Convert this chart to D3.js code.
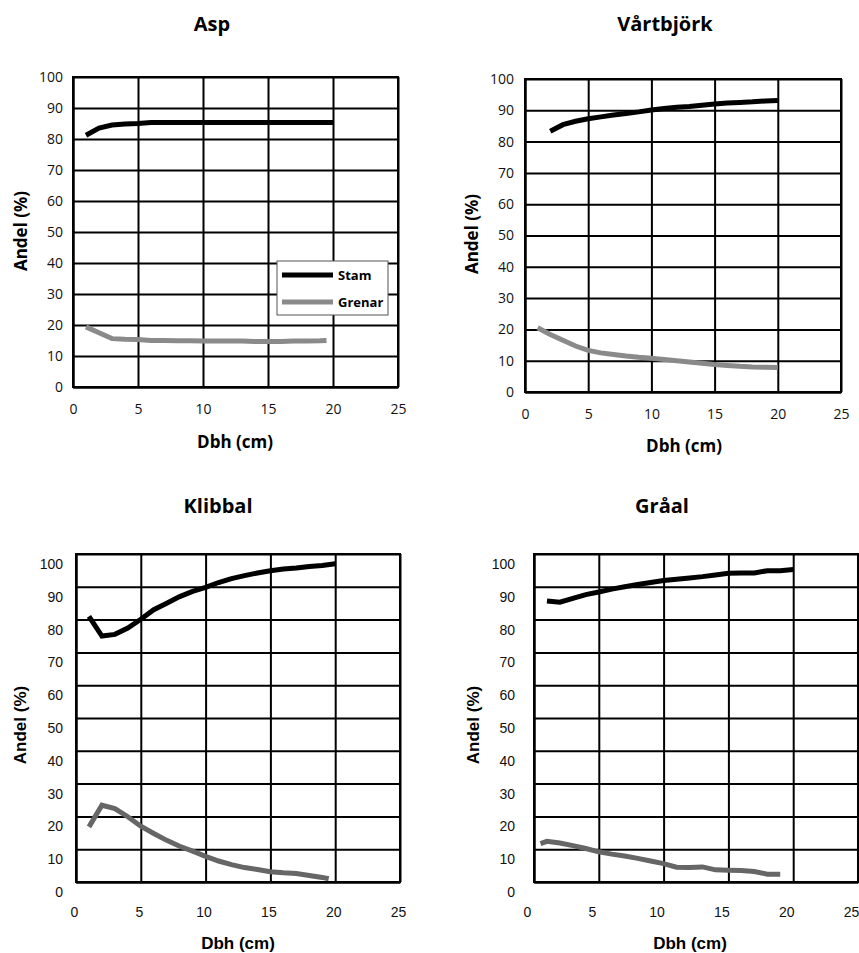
<!DOCTYPE html>
<meta charset="utf-8">
<style>
body { margin: 0; background: #fff; }
.grid line, .grid path { stroke: #000; stroke-width: 2px; }
.title { font-family: "Open Sans"; font-weight: bold; font-size: 20px; }
</style>
<svg width="859" height="953"></svg>
<script src="https://d3js.org/d3.v7.min.js"></script>
<script>

// ticks
var xTicks = [0, 5, 10, 15, 20, 25];
var yTicks = [0, 10, 20, 30, 40, 50, 60, 70, 80, 90, 100];
var seriesNames = ["Stam", "Grenar"];

// Asp
var aspStamDbh = [1, 2, 3, 4, 5, 6, 7, 8, 9, 10, 11, 12, 13, 14, 15, 16, 17, 18, 19, 20];
var aspStam = [81.2, 83.5, 84.5, 84.8, 85, 85.3, 85.3, 85.3, 85.3, 85.3, 85.3, 85.3, 85.3, 85.3, 85.3, 85.3, 85.3, 85.3, 85.3, 85.3];
var aspGrenDbh = [1, 2, 3, 4, 5, 6, 7, 8, 9, 10, 11, 12, 13, 14, 15, 16, 17, 18, 19, 19.5];
var aspGren = [19.4, 17.5, 15.6, 15.4, 15.3, 15.0, 15.0, 14.9, 14.9, 14.8, 14.8, 14.8, 14.8, 14.7, 14.7, 14.7, 14.8, 14.8, 14.9, 15.0];

// Vårtbjörk
var vbStamDbh = [2, 3, 4, 5, 6, 7, 8, 9, 10, 11, 12, 13, 14, 15, 16, 17, 18, 19, 20];
var vbStam = [83.3, 85.4, 86.5, 87.3, 87.9, 88.5, 89, 89.5, 90.1, 90.6, 91, 91.2, 91.6, 92, 92.3, 92.5, 92.7, 93, 93.1];
var vbGrenDbh = [1, 2, 3, 4, 5, 6, 7, 8, 9, 10, 11, 12, 13, 14, 15, 16, 17, 18, 19, 20];
var vbGren = [20.5, 18.4, 16.5, 14.7, 13.3, 12.5, 12, 11.5, 11.1, 10.8, 10.4, 10, 9.6, 9.2, 8.8, 8.5, 8.2, 8.0, 7.9, 7.8];

// Klibbal
var kbStamDbh = [1, 2, 3, 4, 5, 6, 7, 8, 9, 10, 11, 12, 13, 14, 15, 16, 17, 18, 19, 20];
var kbStam = [81, 75, 75.5, 77.4, 80.1, 83, 85, 87, 88.6, 89.8, 91.3, 92.5, 93.4, 94.2, 94.9, 95.4, 95.7, 96.2, 96.5, 97];
var kbGrenDbh = [1, 2, 3, 4, 5, 6, 7, 8, 9, 10, 11, 12, 13, 14, 15, 16, 17, 18, 19, 19.5];
var kbGren = [16.8, 23.4, 22.4, 19.9, 17, 14.8, 12.7, 10.9, 9.4, 7.8, 6.4, 5.3, 4.4, 3.8, 3.1, 2.8, 2.6, 2.0, 1.4, 1.0];

// Gråal
var gaStamDbh = [1, 2, 3, 4, 5, 6, 7, 8, 9, 10, 11, 12, 13, 14, 15, 16, 17, 18, 19, 20];
var gaStam = [85.7, 85.3, 86.5, 87.6, 88.4, 89.3, 90, 90.7, 91.3, 91.9, 92.3, 92.7, 93.1, 93.6, 94.1, 94.2, 94.2, 94.9, 94.9, 95.3];
var gaGrenDbh = [0.5, 1, 2, 3, 4, 5, 6, 7, 8, 9, 10, 11, 12, 13, 14, 15, 16, 17, 18, 19];
var gaGren = [11.7, 12.4, 11.9, 11.1, 10.2, 9.2, 8.5, 7.9, 7.2, 6.4, 5.6, 4.5, 4.4, 4.6, 3.7, 3.6, 3.5, 3.2, 2.4, 2.4];

var svg = d3.select("svg");

var panels = [
  { title: "Asp", stam: [aspStamDbh, aspStam], gren: [aspGrenDbh, aspGren], legend: true,
    left: 73, top: 77, w: 325, h: 310, font: "Open Sans", grey: "#8a8a8a",
    titleX: 212, titleY: 31, ylabX: 21, ylabY: 231, xlabX: 235, xlabY: 448,
    xPad: 17, yPad: 10, tdx: 0, tdy: 0 },
  { title: "Vårtbjörk", stam: [vbStamDbh, vbStam], gren: [vbGrenDbh, vbGren],
    left: 525, top: 79, w: 316, h: 313, font: "Open Sans", grey: "#8a8a8a",
    titleX: 665, titleY: 31, ylabX: 472, ylabY: 234, xlabX: 684, xlabY: 452,
    xPad: 17, yPad: 11, tdx: 0, tdy: 0 },
  { title: "Klibbal", stam: [kbStamDbh, kbStam], gren: [kbGrenDbh, kbGren],
    left: 76, top: 554, w: 324, h: 328, font: "Liberation Sans", grey: "#666",
    titleX: 218, titleY: 513, ylabX: 20, ylabY: 725, xlabX: 238, xlabY: 949,
    xPad: 25, yPad: 13, tdx: -2, tdy: 10 },
  { title: "Gråal", stam: [gaStamDbh, gaStam], gren: [gaGrenDbh, gaGren],
    left: 534, top: 554, w: 324, h: 328, font: "Liberation Sans", grey: "#666",
    titleX: 662, titleY: 513, ylabX: 473, ylabY: 725, xlabX: 690, xlabY: 949,
    xPad: 25, yPad: 19, tdx: -7, tdy: 10 }
];

panels.forEach(function(p) {
  var x = d3.scaleLinear().domain([0, 25]).range([0, p.w]);
  var y = d3.scaleLinear().domain([0, 100]).range([p.h, 0]);

  svg.append("text").attr("class", "title")
    .attr("x", p.titleX).attr("y", p.titleY)
    .attr("text-anchor", "middle").text(p.title);

  var g = svg.append("g").attr("transform", "translate(" + p.left + "," + p.top + ")");

  var xAxis = g.append("g").attr("class", "grid")
      .attr("transform", "translate(0," + p.h + ")")
      .call(d3.axisBottom(x).tickValues(xTicks).tickSize(-p.h).tickPadding(p.xPad).tickSizeOuter(0));
  var yAxis = g.append("g").attr("class", "grid")
      .call(d3.axisLeft(y).tickValues(yTicks).tickSize(-p.w).tickPadding(p.yPad).tickSizeOuter(0));

  [xAxis, yAxis].forEach(function(a) {
    a.selectAll("text")
      .attr("font-family", p.font).attr("font-size", 14).attr("fill", "#111");
  });
  xAxis.selectAll("text").attr("transform", "translate(" + p.tdx + ",0)");
  yAxis.selectAll("text").attr("transform", "translate(0," + p.tdy + ")");

  g.append("rect").attr("width", p.w).attr("height", p.h)
    .attr("fill", "none").attr("stroke", "#000").attr("stroke-width", 2);

  var line = d3.line()
    .x(function(d) { return x(d[0]); })
    .y(function(d) { return y(d[1]); });

  g.append("path").datum(d3.zip(p.gren[0], p.gren[1]))
    .attr("d", line).attr("fill", "none").attr("stroke", p.grey).attr("stroke-width", 5);
  g.append("path").datum(d3.zip(p.stam[0], p.stam[1]))
    .attr("d", line).attr("fill", "none").attr("stroke", "#000").attr("stroke-width", 5);

  svg.append("text")
    .attr("transform", "translate(" + p.ylabX + "," + p.ylabY + ") rotate(-90)")
    .attr("text-anchor", "middle").attr("dy", "0.35em")
    .attr("font-family", p.font).attr("font-weight", "bold").attr("font-size", 17)
    .text("Andel (%)");
  svg.append("text")
    .attr("x", p.xlabX).attr("y", p.xlabY).attr("text-anchor", "middle")
    .attr("font-family", p.font).attr("font-weight", "bold").attr("font-size", 17)
    .text("Dbh (cm)");

  if (p.legend) {
    var lg = svg.append("g").attr("transform", "translate(277,261)");
    lg.append("rect").attr("width", 111).attr("height", 54)
      .attr("fill", "#fff").attr("stroke", "#555").attr("stroke-width", 1);
    seriesNames.forEach(function(name, i) {
      var ly = 14 + i * 27;
      lg.append("line").attr("x1", 5).attr("x2", 56).attr("y1", ly).attr("y2", ly)
        .attr("stroke", i === 0 ? "#000" : p.grey).attr("stroke-width", 5);
      lg.append("text").attr("x", 61).attr("y", ly).attr("dy", "0.35em")
        .attr("font-family", p.font).attr("font-weight", "bold").attr("font-size", 13)
        .text(name);
    });
  }
});

</script>
